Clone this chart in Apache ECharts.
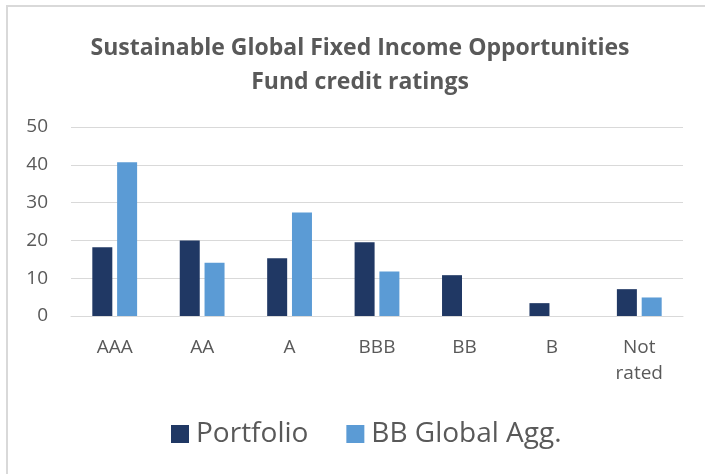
<!DOCTYPE html>
<html>
<head>
<meta charset="utf-8">
<script src="https://cdn.jsdelivr.net/npm/echarts@6/dist/echarts.min.js"></script>
<style>
html, body { margin: 0; padding: 0; background: #fff; }
#frame { position: absolute; left: 6px; top: 5px; width: 720px; height: 490px;
         border-top: 2px solid #d9d9d9; border-left: 2px solid #d9d9d9; }
#chart { position: absolute; left: 0; top: 0; width: 705px; height: 474px; }
</style>
</head>
<body>
<div id="frame"></div>
<div id="chart"></div>
<script>
var categories = ['AAA', 'AA', 'A', 'BBB', 'BB', 'B', 'Not\nrated'];
var portfolio = [18.2, 20.0, 15.3, 19.5, 10.8, 3.4, 7.1];
var benchmark = [40.7, 14.1, 27.4, 11.8, 0, 0, 4.9];
var yTicks = [0, 10, 20, 30, 40, 50];

var chart = echarts.init(document.getElementById('chart'));

var option = {
    animation: false,
    title: {
        text: 'Sustainable Global Fixed Income Opportunities\nFund credit ratings',
        left: 355,
        textAlign: 'center',
        top: 26,
        textStyle: {
            fontFamily: 'Open Sans',
            fontSize: 23,
            fontWeight: 'bold',
            color: '#595959',
            lineHeight: 34
        }
    },
    legend: {
        top: 415,
        left: 166,
        itemWidth: 18,
        itemHeight: 18,
        itemGap: 38,
        icon: 'rect',
        textStyle: {
            fontFamily: 'Open Sans',
            fontSize: 28,
            color: '#595959',
            padding: [0, 0, 0, 2]
        },
        data: ['Portfolio', 'BB Global Agg.']
    },
    grid: {
        left: 71,
        right: 22,
        top: 127,
        bottom: 158
    },
    xAxis: {
        type: 'category',
        data: categories,
        axisTick: { show: false },
        axisLine: { lineStyle: { color: '#d9d9d9', width: 1 } },
        axisLabel: {
            fontFamily: 'Open Sans',
            fontSize: 19,
            color: '#595959',
            margin: 19,
            lineHeight: 26
        }
    },
    yAxis: {
        type: 'value',
        min: yTicks[0],
        max: yTicks[yTicks.length - 1],
        interval: 10,
        axisLine: { show: false },
        axisTick: { show: false },
        axisLabel: {
            fontFamily: 'Open Sans',
            fontSize: 19,
            color: '#595959',
            margin: 23
        },
        splitLine: { lineStyle: { color: '#d9d9d9', width: 1 } }
    },
    series: [{
        name: 'Portfolio',
        type: 'bar',
        data: portfolio,
        barWidth: 20,
        barGap: '24%',
        itemStyle: { color: '#203864' }
    }, {
        name: 'BB Global Agg.',
        type: 'bar',
        data: benchmark,
        barWidth: 20,
        itemStyle: { color: '#5b9bd5' }
    }]
};

chart.setOption(option);
</script>
</body>
</html>
